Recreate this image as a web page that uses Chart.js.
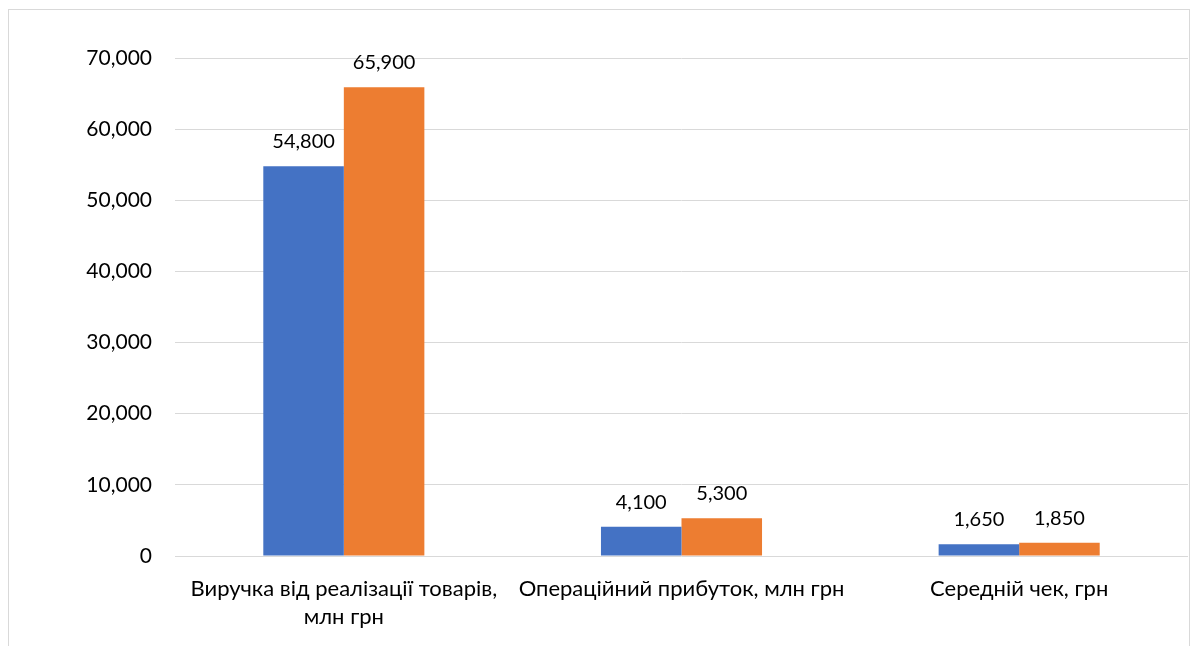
<!DOCTYPE html>
<html>
<head>
<meta charset="utf-8">
<script src="https://cdn.jsdelivr.net/npm/chart.js@4.4.1/dist/chart.umd.min.js"></script>
<style>
  body { margin: 0; background: #fff; overflow: hidden; }
  #wrap { position: relative; width: 1192px; height: 646px; }
  #frame { position: absolute; left: 8px; top: 9px; width: 1180px; height: 700px; border: 1px solid #d9d9d9; }
  #chart { position: absolute; left: 0; top: 0; }
</style>
</head>
<body>
<div id="wrap">
  <div id="frame"></div>
  <canvas id="chart" width="1192" height="646"></canvas>
</div>
<script>
// categories and values
const categories = [
  ["Виручка від реалізації товарів,", "млн грн"],
  "Операційний прибуток, млн грн",
  "Середній чек, грн"
];
const seriesA = [54800, 4100, 1650];
const seriesB = [65900, 5300, 1850];
const yTicks = [0, 10000, 20000, 30000, 40000, 50000, 60000, 70000];

const fontFamily = "Lato, 'Noto Sans', sans-serif";
const fmt = v => v.toLocaleString("en-US");

// draws the value above every bar
const valueLabels = {
  id: "valueLabels",
  afterDatasetsDraw(chart) {
    const ctx = chart.ctx;
    ctx.save();
    ctx.font = `20px ${fontFamily}`;
    ctx.fillStyle = "#000";
    ctx.textAlign = "center";
    ctx.textBaseline = "alphabetic";
    chart.data.datasets.forEach((ds, i) => {
      chart.getDatasetMeta(i).data.forEach((bar, j) => {
        ctx.fillText(fmt(ds.data[j]), bar.x, bar.y - 18);
      });
    });
    ctx.restore();
  }
};

const ctx = document.getElementById("chart").getContext("2d");
new Chart(ctx, {
  type: "bar",
  data: {
    labels: categories,
    datasets: [
      { label: "A", data: seriesA, backgroundColor: "#4472C4" },
      { label: "B", data: seriesB, backgroundColor: "#ED7D31" }
    ]
  },
  options: {
    responsive: false,
    animation: false,
    categoryPercentage: 0.477,
    barPercentage: 1,
    layout: { padding: { top: 58, right: 4, left: 0, bottom: 0 } },
    plugins: {
      legend: { display: false },
      tooltip: { enabled: false }
    },
    scales: {
      x: {
        grid: { display: false },
        border: { display: false },
        ticks: {
          color: "#000",
          font: { family: fontFamily, size: 22, lineHeight: 1.27 },
          padding: 11,
          maxRotation: 0
        },
        afterFit: scale => { scale.height = 90; }
      },
      y: {
        min: 0,
        max: 70000,
        afterBuildTicks: scale => { scale.ticks = yTicks.map(v => ({ value: v })); },
        grid: { color: "#d9d9d9", lineWidth: 1, drawTicks: false },
        border: { display: false },
        ticks: {
          color: "#000",
          font: { family: fontFamily, size: 21 },
          padding: 23,
          callback: val => fmt(val)
        },
        afterFit: scale => { scale.width = 175; }
      }
    }
  },
  plugins: [valueLabels]
});
</script>
</body>
</html>
